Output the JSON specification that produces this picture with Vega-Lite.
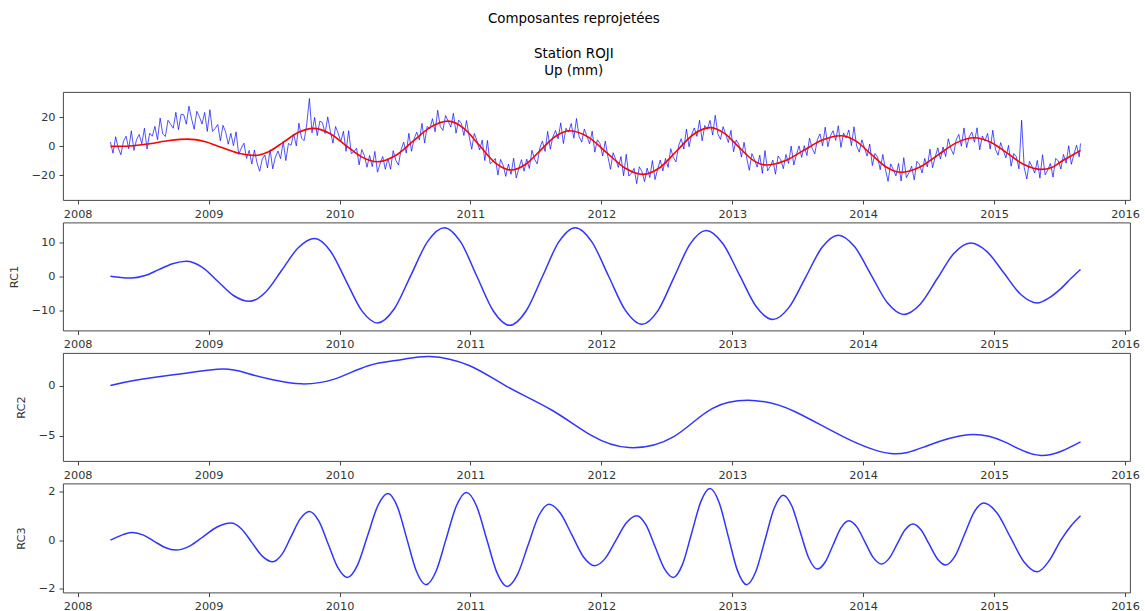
{
"$schema":"https://vega.github.io/schema/vega-lite/v6.json",
"padding":{"left":7,"top":12,"right":5,"bottom":2},
"title":{"text":"Composantes reprojetées","subtitle":["Station ROJI","Up (mm)"],"fontSize":13.4,"fontWeight":"normal","font":"DejaVu Sans","color":"#000","subtitleFont":"DejaVu Sans","subtitleFontSize":13.4,"subtitleColor":"#000","subtitleLineHeight":17.3,"subtitlePadding":21,"anchor":"middle","offset":14},
"datasets":{
"up":[
{"t":2008.25,"v":3.0},{"t":2008.27,"v":-4.7},{"t":2008.29,"v":6.6},{"t":2008.31,"v":-1.1},{"t":2008.33,"v":-5.8},{"t":2008.35,"v":3.6},{"t":2008.37,"v":7.0},{"t":2008.39,"v":-1.7},{"t":2008.41,"v":10.7},{"t":2008.43,"v":-2.8},{"t":2008.45,"v":4.7},{"t":2008.47,"v":8.2},{"t":2008.49,"v":1.8},{"t":2008.51,"v":12.5},{"t":2008.53,"v":-1.8},{"t":2008.55,"v":9.1},{"t":2008.57,"v":7.0},{"t":2008.59,"v":13.8},{"t":2008.61,"v":4.6},{"t":2008.63,"v":19.5},{"t":2008.65,"v":8.6},{"t":2008.67,"v":6.8},{"t":2008.69,"v":18.0},{"t":2008.71,"v":15.3},{"t":2008.73,"v":12.5},{"t":2008.75,"v":23.5},{"t":2008.77,"v":11.5},{"t":2008.79,"v":22.2},{"t":2008.81,"v":21.8},{"t":2008.83,"v":15.3},{"t":2008.85,"v":27.7},{"t":2008.87,"v":19.0},{"t":2008.89,"v":11.8},{"t":2008.91,"v":24.2},{"t":2008.93,"v":20.4},{"t":2008.95,"v":15.4},{"t":2008.97,"v":23.4},{"t":2008.99,"v":10.3},{"t":2009.01,"v":25.3},{"t":2009.03,"v":10.3},{"t":2009.05,"v":12.3},{"t":2009.07,"v":15.1},{"t":2009.09,"v":3.8},{"t":2009.11,"v":14.5},{"t":2009.13,"v":10.0},{"t":2009.15,"v":1.5},{"t":2009.17,"v":9.0},{"t":2009.19,"v":0.5},{"t":2009.21,"v":10.0},{"t":2009.23,"v":-5.6},{"t":2009.25,"v":-1.2},{"t":2009.27,"v":2.2},{"t":2009.29,"v":-8.3},{"t":2009.31,"v":-2.8},{"t":2009.33,"v":-12.2},{"t":2009.35,"v":-2.5},{"t":2009.37,"v":-11.4},{"t":2009.39,"v":-17.2},{"t":2009.41,"v":-8.8},{"t":2009.43,"v":-6.0},{"t":2009.45,"v":-14.9},{"t":2009.47,"v":-2.3},{"t":2009.49,"v":-15.5},{"t":2009.51,"v":-7.5},{"t":2009.53,"v":-3.2},{"t":2009.55,"v":-8.5},{"t":2009.57,"v":3.4},{"t":2009.59,"v":-9.8},{"t":2009.61,"v":2.0},{"t":2009.63,"v":0.8},{"t":2009.65,"v":8.6},{"t":2009.67,"v":0.3},{"t":2009.69,"v":16.0},{"t":2009.71,"v":5.6},{"t":2009.73,"v":4.0},{"t":2009.75,"v":15.4},{"t":2009.77,"v":33.0},{"t":2009.79,"v":9.4},{"t":2009.81,"v":20.0},{"t":2009.83,"v":7.4},{"t":2009.85,"v":17.5},{"t":2009.87,"v":16.3},{"t":2009.89,"v":8.9},{"t":2009.91,"v":20.3},{"t":2009.93,"v":10.4},{"t":2009.95,"v":2.2},{"t":2009.97,"v":13.7},{"t":2009.99,"v":9.0},{"t":2010.01,"v":3.2},{"t":2010.03,"v":10.4},{"t":2010.05,"v":-3.4},{"t":2010.07,"v":10.8},{"t":2010.09,"v":-5.0},{"t":2010.11,"v":-3.7},{"t":2010.13,"v":-1.3},{"t":2010.15,"v":-12.8},{"t":2010.17,"v":-2.2},{"t":2010.19,"v":-6.4},{"t":2010.21,"v":-14.4},{"t":2010.23,"v":-6.3},{"t":2010.25,"v":-14.0},{"t":2010.27,"v":-3.5},{"t":2010.29,"v":-17.8},{"t":2010.31,"v":-12.0},{"t":2010.33,"v":-7.0},{"t":2010.35,"v":-15.8},{"t":2010.37,"v":-8.4},{"t":2010.39,"v":-15.8},{"t":2010.41,"v":-3.0},{"t":2010.43,"v":-9.6},{"t":2010.45,"v":-12.9},{"t":2010.47,"v":-2.3},{"t":2010.49,"v":2.9},{"t":2010.51,"v":-4.6},{"t":2010.53,"v":9.0},{"t":2010.55,"v":-3.4},{"t":2010.57,"v":5.2},{"t":2010.59,"v":9.8},{"t":2010.61,"v":4.4},{"t":2010.63,"v":15.9},{"t":2010.65,"v":2.4},{"t":2010.67,"v":13.8},{"t":2010.69,"v":12.0},{"t":2010.71,"v":19.1},{"t":2010.73,"v":10.1},{"t":2010.75,"v":24.9},{"t":2010.77,"v":13.6},{"t":2010.79,"v":11.0},{"t":2010.81,"v":21.3},{"t":2010.83,"v":17.4},{"t":2010.85,"v":13.3},{"t":2010.87,"v":22.8},{"t":2010.89,"v":9.1},{"t":2010.91,"v":18.1},{"t":2010.93,"v":15.9},{"t":2010.95,"v":7.5},{"t":2010.97,"v":17.8},{"t":2010.99,"v":7.0},{"t":2011.01,"v":-2.0},{"t":2011.03,"v":8.9},{"t":2011.05,"v":3.8},{"t":2011.07,"v":-2.5},{"t":2011.09,"v":4.3},{"t":2011.11,"v":-9.8},{"t":2011.13,"v":4.1},{"t":2011.15,"v":-11.9},{"t":2011.17,"v":-10.7},{"t":2011.19,"v":-8.4},{"t":2011.21,"v":-19.8},{"t":2011.23,"v":-9.0},{"t":2011.25,"v":-13.0},{"t":2011.27,"v":-20.7},{"t":2011.29,"v":-12.2},{"t":2011.31,"v":-19.3},{"t":2011.33,"v":-8.2},{"t":2011.35,"v":-21.8},{"t":2011.37,"v":-15.1},{"t":2011.39,"v":-9.2},{"t":2011.41,"v":-17.1},{"t":2011.43,"v":-8.8},{"t":2011.45,"v":-15.3},{"t":2011.47,"v":-2.7},{"t":2011.49,"v":-8.9},{"t":2011.51,"v":-12.1},{"t":2011.53,"v":-1.2},{"t":2011.55,"v":3.7},{"t":2011.57,"v":-3.5},{"t":2011.59,"v":10.3},{"t":2011.61,"v":-2.0},{"t":2011.63,"v":6.6},{"t":2011.65,"v":11.0},{"t":2011.67,"v":5.2},{"t":2011.69,"v":16.2},{"t":2011.71,"v":2.0},{"t":2011.73,"v":12.5},{"t":2011.75,"v":9.8},{"t":2011.77,"v":15.8},{"t":2011.79,"v":5.6},{"t":2011.81,"v":19.2},{"t":2011.83,"v":6.7},{"t":2011.85,"v":2.9},{"t":2011.87,"v":12.0},{"t":2011.89,"v":7.0},{"t":2011.91,"v":1.8},{"t":2011.93,"v":10.5},{"t":2011.95,"v":-4.0},{"t":2011.97,"v":4.5},{"t":2011.99,"v":1.9},{"t":2012.01,"v":-6.7},{"t":2012.03,"v":3.6},{"t":2012.05,"v":-7.1},{"t":2012.07,"v":-15.8},{"t":2012.09,"v":-4.4},{"t":2012.11,"v":-9.0},{"t":2012.13,"v":-14.5},{"t":2012.15,"v":-7.0},{"t":2012.17,"v":-20.3},{"t":2012.19,"v":-5.5},{"t":2012.21,"v":-20.5},{"t":2012.23,"v":-18.4},{"t":2012.25,"v":-15.2},{"t":2012.27,"v":-25.7},{"t":2012.29,"v":-14.1},{"t":2012.31,"v":-17.3},{"t":2012.33,"v":-24.3},{"t":2012.35,"v":-15.0},{"t":2012.37,"v":-21.5},{"t":2012.39,"v":-9.8},{"t":2012.41,"v":-22.9},{"t":2012.43,"v":-15.8},{"t":2012.45,"v":-9.4},{"t":2012.47,"v":-16.9},{"t":2012.49,"v":-8.3},{"t":2012.51,"v":-14.5},{"t":2012.53,"v":-1.6},{"t":2012.55,"v":-7.7},{"t":2012.57,"v":-10.7},{"t":2012.59,"v":0.3},{"t":2012.61,"v":5.3},{"t":2012.63,"v":-1.9},{"t":2012.65,"v":12.0},{"t":2012.67,"v":-0.3},{"t":2012.69,"v":8.3},{"t":2012.71,"v":12.7},{"t":2012.73,"v":6.9},{"t":2012.75,"v":18.0},{"t":2012.77,"v":3.8},{"t":2012.79,"v":14.4},{"t":2012.81,"v":11.8},{"t":2012.83,"v":17.9},{"t":2012.85,"v":7.8},{"t":2012.87,"v":21.4},{"t":2012.89,"v":8.7},{"t":2012.91,"v":4.8},{"t":2012.93,"v":13.6},{"t":2012.95,"v":8.3},{"t":2012.97,"v":2.7},{"t":2012.99,"v":11.0},{"t":2013.01,"v":-3.7},{"t":2013.03,"v":4.4},{"t":2013.05,"v":1.5},{"t":2013.07,"v":-7.4},{"t":2013.09,"v":2.8},{"t":2013.11,"v":-7.9},{"t":2013.13,"v":-16.5},{"t":2013.15,"v":-5.0},{"t":2013.17,"v":-9.2},{"t":2013.19,"v":-14.3},{"t":2013.21,"v":-6.1},{"t":2013.23,"v":-18.6},{"t":2013.25,"v":-2.9},{"t":2013.27,"v":-16.9},{"t":2013.29,"v":-13.8},{"t":2013.31,"v":-9.5},{"t":2013.33,"v":-19.2},{"t":2013.35,"v":-6.7},{"t":2013.37,"v":-9.1},{"t":2013.39,"v":-15.4},{"t":2013.41,"v":-5.6},{"t":2013.43,"v":-11.8},{"t":2013.45,"v":0.2},{"t":2013.47,"v":-12.9},{"t":2013.49,"v":-5.8},{"t":2013.51,"v":0.3},{"t":2013.53,"v":-7.6},{"t":2013.55,"v":0.5},{"t":2013.57,"v":-6.4},{"t":2013.59,"v":5.7},{"t":2013.61,"v":-1.3},{"t":2013.63,"v":-5.2},{"t":2013.65,"v":4.7},{"t":2013.67,"v":8.6},{"t":2013.69,"v":0.4},{"t":2013.71,"v":13.2},{"t":2013.73,"v":-0.2},{"t":2013.75,"v":7.3},{"t":2013.77,"v":10.8},{"t":2013.79,"v":4.1},{"t":2013.81,"v":14.2},{"t":2013.83,"v":-0.7},{"t":2013.85,"v":9.2},{"t":2013.87,"v":5.8},{"t":2013.89,"v":11.3},{"t":2013.91,"v":0.5},{"t":2013.93,"v":13.5},{"t":2013.95,"v":0.3},{"t":2013.97,"v":-4.0},{"t":2013.99,"v":4.5},{"t":2014.01,"v":-1.1},{"t":2014.03,"v":-6.7},{"t":2014.05,"v":1.6},{"t":2014.07,"v":-13.2},{"t":2014.09,"v":-4.9},{"t":2014.11,"v":-7.5},{"t":2014.13,"v":-16.1},{"t":2014.15,"v":-5.6},{"t":2014.17,"v":-15.9},{"t":2014.19,"v":-24.1},{"t":2014.21,"v":-12.1},{"t":2014.23,"v":-15.9},{"t":2014.25,"v":-20.4},{"t":2014.27,"v":-11.8},{"t":2014.29,"v":-23.9},{"t":2014.31,"v":-7.8},{"t":2014.33,"v":-21.6},{"t":2014.35,"v":-18.2},{"t":2014.37,"v":-13.7},{"t":2014.39,"v":-23.1},{"t":2014.41,"v":-10.3},{"t":2014.43,"v":-12.4},{"t":2014.45,"v":-18.4},{"t":2014.47,"v":-8.3},{"t":2014.49,"v":-14.2},{"t":2014.51,"v":-1.9},{"t":2014.53,"v":-14.7},{"t":2014.55,"v":-7.3},{"t":2014.57,"v":-1.0},{"t":2014.59,"v":-8.7},{"t":2014.61,"v":-0.4},{"t":2014.63,"v":-7.1},{"t":2014.65,"v":5.2},{"t":2014.67,"v":-1.7},{"t":2014.69,"v":-5.6},{"t":2014.71,"v":4.4},{"t":2014.73,"v":8.3},{"t":2014.75,"v":0.1},{"t":2014.77,"v":12.7},{"t":2014.79,"v":-0.8},{"t":2014.81,"v":6.6},{"t":2014.83,"v":9.8},{"t":2014.85,"v":2.9},{"t":2014.87,"v":12.8},{"t":2014.89,"v":-2.4},{"t":2014.91,"v":7.2},{"t":2014.93,"v":3.6},{"t":2014.95,"v":8.9},{"t":2014.97,"v":-1.9},{"t":2014.99,"v":11.1},{"t":2015.01,"v":-2.0},{"t":2015.03,"v":-6.1},{"t":2015.05,"v":2.6},{"t":2015.07,"v":-2.7},{"t":2015.09,"v":-8.0},{"t":2015.11,"v":0.7},{"t":2015.13,"v":-13.7},{"t":2015.15,"v":-5.0},{"t":2015.17,"v":-7.2},{"t":2015.19,"v":-15.5},{"t":2015.21,"v":18.0},{"t":2015.23,"v":-14.6},{"t":2015.25,"v":-22.5},{"t":2015.27,"v":-10.3},{"t":2015.29,"v":-13.9},{"t":2015.31,"v":-18.4},{"t":2015.33,"v":-9.7},{"t":2015.35,"v":-21.9},{"t":2015.37,"v":-5.8},{"t":2015.39,"v":-19.6},{"t":2015.41,"v":-16.2},{"t":2015.43,"v":-11.8},{"t":2015.45,"v":-21.2},{"t":2015.47,"v":-8.3},{"t":2015.49,"v":-9.9},{"t":2015.51,"v":-15.6},{"t":2015.53,"v":-5.6},{"t":2015.55,"v":-11.6},{"t":2015.57,"v":0.4},{"t":2015.59,"v":-12.4},{"t":2015.61,"v":-5.3},{"t":2015.63,"v":0.8},{"t":2015.65,"v":-7.2},{"t":2015.66,"v":2.0}
],
"fit":[
{"t":2008.25,"v":0},{"t":2008.4,"v":0.3},{"t":2008.55,"v":1.8},{"t":2008.7,"v":4.0},{"t":2008.84,"v":5.0},{"t":2008.9675,"v":3.36},{"t":2009.095,"v":-0.6},{"t":2009.2225,"v":-4.56},{"t":2009.35,"v":-6.2},{"t":2009.4625,"v":-3.48},{"t":2009.575,"v":3.1},{"t":2009.6875,"v":9.68},{"t":2009.8,"v":12.4},{"t":2009.9225,"v":9.03},{"t":2010.045,"v":0.9},{"t":2010.1675,"v":-7.23},{"t":2010.29,"v":-10.6},{"t":2010.425,"v":-6.5},{"t":2010.56,"v":3.4},{"t":2010.695,"v":13.3},{"t":2010.83,"v":17.4},{"t":2010.95,"v":12.46},{"t":2011.07,"v":0.55},{"t":2011.19,"v":-11.36},{"t":2011.31,"v":-16.3},{"t":2011.4225,"v":-12.33},{"t":2011.535,"v":-2.75},{"t":2011.6475,"v":6.83},{"t":2011.76,"v":10.8},{"t":2011.9,"v":6.39},{"t":2012.04,"v":-4.25},{"t":2012.18,"v":-14.89},{"t":2012.32,"v":-19.3},{"t":2012.4475,"v":-14.58},{"t":2012.575,"v":-3.2},{"t":2012.7025,"v":8.18},{"t":2012.83,"v":12.9},{"t":2012.9375,"v":9.12},{"t":2013.045,"v":0},{"t":2013.1525,"v":-9.12},{"t":2013.26,"v":-12.9},{"t":2013.4025,"v":-9.94},{"t":2013.545,"v":-2.8},{"t":2013.6875,"v":4.34},{"t":2013.83,"v":7.3},{"t":2013.945,"v":3.61},{"t":2014.06,"v":-5.3},{"t":2014.175,"v":-14.21},{"t":2014.29,"v":-17.9},{"t":2014.43,"v":-14.41},{"t":2014.57,"v":-6.0},{"t":2014.71,"v":2.41},{"t":2014.85,"v":5.9},{"t":2014.9775,"v":2.71},{"t":2015.105,"v":-5.0},{"t":2015.2325,"v":-12.71},{"t":2015.36,"v":-15.9},{"t":2015.44,"v":-14.6},{"t":2015.51,"v":-10.6},{"t":2015.58,"v":-7.0},{"t":2015.66,"v":-2.8}
],
"rc1":[
{"t":2008.25,"v":0},{"t":2008.33,"v":-0.35},{"t":2008.41,"v":-0.5},{"t":2008.515,"v":0.22},{"t":2008.62,"v":1.95},{"t":2008.725,"v":3.68},{"t":2008.83,"v":4.4},{"t":2008.95,"v":2.69},{"t":2009.07,"v":-1.45},{"t":2009.19,"v":-5.59},{"t":2009.31,"v":-7.3},{"t":2009.435,"v":-4.62},{"t":2009.56,"v":1.85},{"t":2009.685,"v":8.32},{"t":2009.81,"v":11.0},{"t":2009.93,"v":7.4},{"t":2010.05,"v":-1.3},{"t":2010.17,"v":-10.0},{"t":2010.29,"v":-13.6},{"t":2010.4175,"v":-9.53},{"t":2010.545,"v":0.3},{"t":2010.6725,"v":10.13},{"t":2010.8,"v":14.2},{"t":2010.925,"v":10.03},{"t":2011.05,"v":-0.05},{"t":2011.175,"v":-10.12},{"t":2011.3,"v":-14.3},{"t":2011.425,"v":-10.12},{"t":2011.55,"v":-0.05},{"t":2011.675,"v":10.03},{"t":2011.8,"v":14.2},{"t":2011.9275,"v":10.07},{"t":2012.055,"v":0.1},{"t":2012.1825,"v":-9.87},{"t":2012.31,"v":-14.0},{"t":2012.4325,"v":-9.99},{"t":2012.555,"v":-0.3},{"t":2012.6775,"v":9.39},{"t":2012.8,"v":13.4},{"t":2012.9275,"v":9.59},{"t":2013.055,"v":0.4},{"t":2013.1825,"v":-8.79},{"t":2013.31,"v":-12.6},{"t":2013.435,"v":-8.99},{"t":2013.56,"v":-0.3},{"t":2013.685,"v":8.4},{"t":2013.81,"v":12.0},{"t":2013.935,"v":8.62},{"t":2014.06,"v":0.45},{"t":2014.185,"v":-7.72},{"t":2014.31,"v":-11.1},{"t":2014.4375,"v":-8.05},{"t":2014.565,"v":-0.7},{"t":2014.6925,"v":6.65},{"t":2014.82,"v":9.7},{"t":2014.9475,"v":7.14},{"t":2015.075,"v":0.95},{"t":2015.2025,"v":-5.24},{"t":2015.33,"v":-7.8},{"t":2015.42,"v":-6.3},{"t":2015.51,"v":-3.6},{"t":2015.59,"v":-0.5},{"t":2015.66,"v":2.0}
],
"rc2":[
{"t":2008.25,"v":0},{"t":2008.43,"v":0.5},{"t":2008.69,"v":1.0},{"t":2008.84,"v":1.25},{"t":2009.11,"v":1.64},{"t":2009.3,"v":1.2},{"t":2009.5,"v":0.55},{"t":2009.71,"v":0.17},{"t":2009.96,"v":0.64},{"t":2010.22,"v":1.97},{"t":2010.47,"v":2.57},{"t":2010.69,"v":2.9},{"t":2010.99,"v":2.0},{"t":2011.28,"v":-0.1},{"t":2011.62,"v":-2.43},{"t":2011.92,"v":-4.93},{"t":2012.21,"v":-6.16},{"t":2012.55,"v":-5.1},{"t":2012.85,"v":-2.26},{"t":2013.18,"v":-1.5},{"t":2013.48,"v":-2.6},{"t":2013.85,"v":-5.1},{"t":2014.21,"v":-6.76},{"t":2014.48,"v":-6.03},{"t":2014.8,"v":-4.9},{"t":2015.08,"v":-5.6},{"t":2015.36,"v":-6.96},{"t":2015.66,"v":-5.6}
],
"rc3":[
{"t":2008.25,"v":0},{"t":2008.3,"v":0.12},{"t":2008.36,"v":0.25},{"t":2008.42,"v":0.31},{"t":2008.5025,"v":0.205},{"t":2008.585,"v":-0.05},{"t":2008.6675,"v":-0.305},{"t":2008.75,"v":-0.41},{"t":2008.855,"v":-0.247},{"t":2008.96,"v":0.145},{"t":2009.065,"v":0.537},{"t":2009.17,"v":0.7},{"t":2009.25,"v":0.467},{"t":2009.33,"v":-0.095},{"t":2009.41,"v":-0.657},{"t":2009.49,"v":-0.89},{"t":2009.56,"v":-0.588},{"t":2009.63,"v":0.14},{"t":2009.7,"v":0.868},{"t":2009.77,"v":1.17},{"t":2009.8425,"v":0.774},{"t":2009.915,"v":-0.18},{"t":2009.9875,"v":-1.134},{"t":2010.06,"v":-1.53},{"t":2010.1375,"v":-1.026},{"t":2010.215,"v":0.19},{"t":2010.2925,"v":1.406},{"t":2010.37,"v":1.91},{"t":2010.4425,"v":1.362},{"t":2010.515,"v":0.04},{"t":2010.5875,"v":-1.282},{"t":2010.66,"v":-1.83},{"t":2010.7375,"v":-1.276},{"t":2010.815,"v":0.06},{"t":2010.8925,"v":1.396},{"t":2010.97,"v":1.95},{"t":2011.0475,"v":1.386},{"t":2011.125,"v":0.025},{"t":2011.2025,"v":-1.336},{"t":2011.28,"v":-1.9},{"t":2011.36,"v":-1.406},{"t":2011.44,"v":-0.215},{"t":2011.52,"v":0.976},{"t":2011.6,"v":1.47},{"t":2011.6875,"v":1.101},{"t":2011.775,"v":0.21},{"t":2011.8625,"v":-0.681},{"t":2011.95,"v":-1.05},{"t":2012.03,"v":-0.75},{"t":2012.11,"v":-0.025},{"t":2012.19,"v":0.7},{"t":2012.27,"v":1.0},{"t":2012.34,"v":0.629},{"t":2012.41,"v":-0.265},{"t":2012.48,"v":-1.159},{"t":2012.55,"v":-1.53},{"t":2012.62,"v":-0.997},{"t":2012.69,"v":0.29},{"t":2012.76,"v":1.577},{"t":2012.83,"v":2.11},{"t":2012.9,"v":1.533},{"t":2012.97,"v":0.14},{"t":2013.04,"v":-1.253},{"t":2013.11,"v":-1.83},{"t":2013.18,"v":-1.292},{"t":2013.25,"v":0.005},{"t":2013.32,"v":1.302},{"t":2013.39,"v":1.84},{"t":2013.455,"v":1.396},{"t":2013.52,"v":0.325},{"t":2013.585,"v":-0.746},{"t":2013.65,"v":-1.19},{"t":2013.71,"v":-0.9},{"t":2013.77,"v":-0.2},{"t":2013.83,"v":0.5},{"t":2013.89,"v":0.79},{"t":2013.9525,"v":0.531},{"t":2014.015,"v":-0.095},{"t":2014.0775,"v":-0.721},{"t":2014.14,"v":-0.98},{"t":2014.2,"v":-0.74},{"t":2014.26,"v":-0.16},{"t":2014.32,"v":0.42},{"t":2014.38,"v":0.66},{"t":2014.4425,"v":0.414},{"t":2014.505,"v":-0.18},{"t":2014.5675,"v":-0.774},{"t":2014.63,"v":-1.02},{"t":2014.7025,"v":-0.648},{"t":2014.775,"v":0.25},{"t":2014.8475,"v":1.148},{"t":2014.92,"v":1.52},{"t":2015.0225,"v":1.107},{"t":2015.125,"v":0.11},{"t":2015.2275,"v":-0.887},{"t":2015.33,"v":-1.3},{"t":2015.42,"v":-0.85},{"t":2015.51,"v":0.0},{"t":2015.59,"v":0.6},{"t":2015.66,"v":1.0}
]
},
"spacing":22.5,
"bounds":"flush",
"vconcat":[
{"width":1067,"height":108,"layer":[
{"data":{"name":"up"},"mark":{"type":"line","stroke":"#0000ff","strokeWidth":0.8,"strokeOpacity":0.85},
"encoding":{"x":{"field":"t","type":"quantitative","scale":{"domain":[2007.888,2016.038],"nice":false,"zero":false},"axis":{"values":[2008,2009,2010,2011,2012,2013,2014,2015,2016],"format":"d","title":null}},
"y":{"field":"v","type":"quantitative","scale":{"domain":[-37,37.5],"nice":false,"zero":false},"axis":{"values":[-20,0,20],"format":"d","title":null}}}},
{"data":{"name":"fit"},"mark":{"type":"line","stroke":"#ff0000","strokeWidth":1.6,"interpolate":"monotone"},
"encoding":{"x":{"field":"t","type":"quantitative"},"y":{"field":"v","type":"quantitative"}}}
]},
{"width":1067,"height":108,"data":{"name":"rc1"},"mark":{"type":"line","stroke":"#0000ff","strokeWidth":1.5,"strokeOpacity":0.8,"interpolate":"monotone"},
"encoding":{"x":{"field":"t","type":"quantitative","scale":{"domain":[2007.888,2016.038],"nice":false,"zero":false},"axis":{"values":[2008,2009,2010,2011,2012,2013,2014,2015,2016],"format":"d","title":null}},
"y":{"field":"v","type":"quantitative","scale":{"domain":[-15.8,15.7],"nice":false,"zero":false},"axis":{"values":[-10,0,10],"format":"d","title":"RC1"}}}},
{"width":1067,"height":108,"data":{"name":"rc2"},"mark":{"type":"line","stroke":"#0000ff","strokeWidth":1.5,"strokeOpacity":0.8,"interpolate":"natural"},
"encoding":{"x":{"field":"t","type":"quantitative","scale":{"domain":[2007.888,2016.038],"nice":false,"zero":false},"axis":{"values":[2008,2009,2010,2011,2012,2013,2014,2015,2016],"format":"d","title":null}},
"y":{"field":"v","type":"quantitative","scale":{"domain":[-7.5,3.24],"nice":false,"zero":false},"axis":{"values":[-5,0],"format":"d","title":"RC2"}}}},
{"width":1067,"height":109,"data":{"name":"rc3"},"mark":{"type":"line","stroke":"#0000ff","strokeWidth":1.5,"strokeOpacity":0.8,"interpolate":"monotone"},
"encoding":{"x":{"field":"t","type":"quantitative","scale":{"domain":[2007.888,2016.038],"nice":false,"zero":false},"axis":{"values":[2008,2009,2010,2011,2012,2013,2014,2015,2016],"format":"d","title":null}},
"y":{"field":"v","type":"quantitative","scale":{"domain":[-2.15,2.32],"nice":false,"zero":false},"axis":{"values":[-2,0,2],"format":"d","title":"RC3"}}}}
],
"config":{
"font":"DejaVu Sans",
"view":{"stroke":"#333","strokeWidth":0.9},
"axis":{"grid":false,"domain":false,"tickColor":"#333","tickSize":4,"tickWidth":0.9,"labelPadding":4,"labelFont":"DejaVu Sans","labelFontSize":11.3,"labelColor":"#333","labelFlush":false,"labelOverlap":false,"titleFont":"DejaVu Sans","titleFontSize":11.3,"titleFontWeight":"normal","titleColor":"#333","titlePadding":12}
}
}
